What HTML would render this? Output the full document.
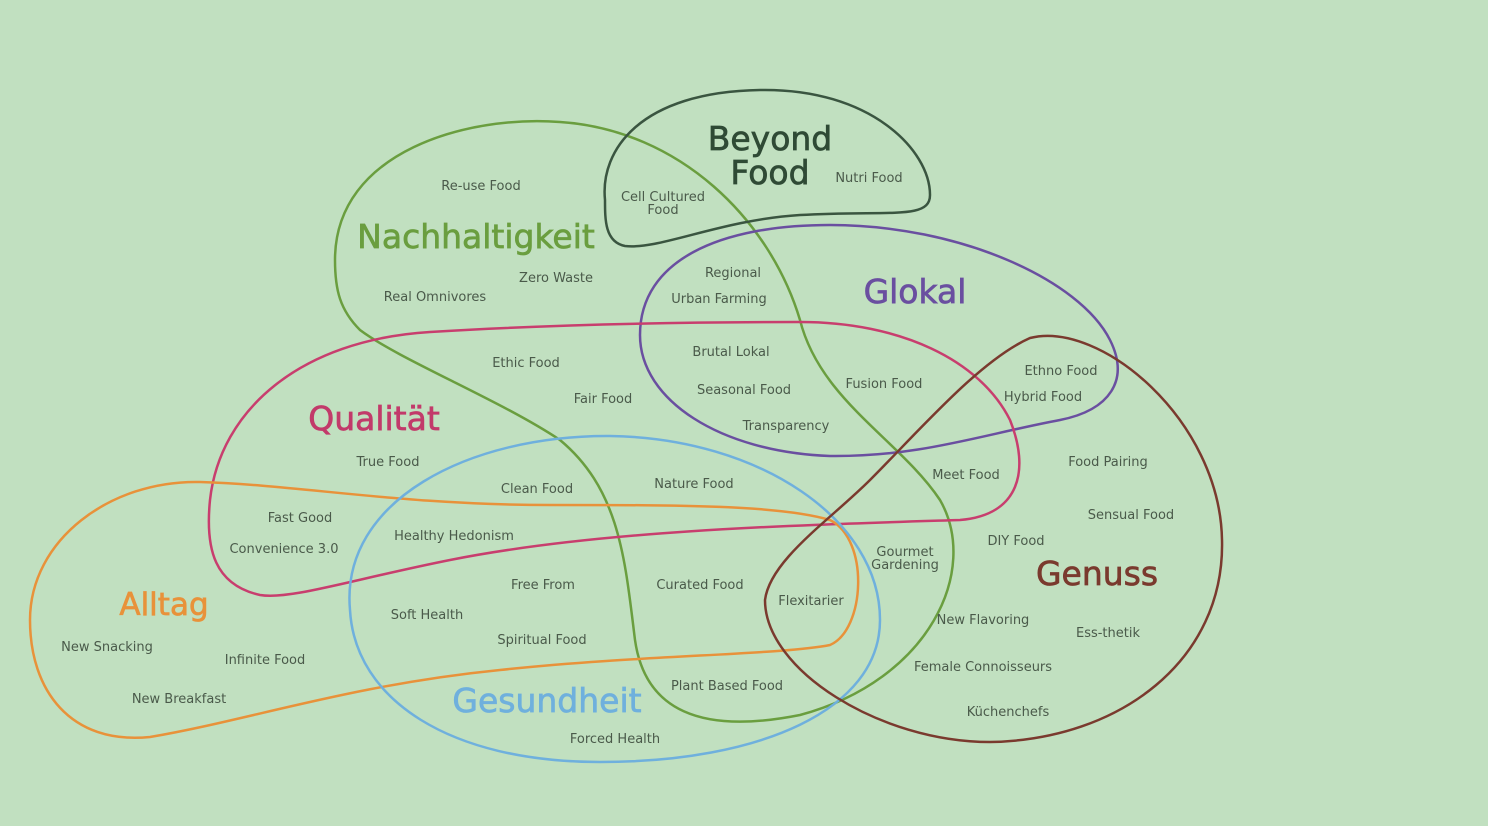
<!DOCTYPE html>
<html><head><meta charset="utf-8"><style>
html,body{margin:0;padding:0;background:#c1e0c0;}
svg{display:block}
text{font-family:"DejaVu Sans","Liberation Sans",sans-serif;}
.l{font-size:13px;fill:#4a5a4a;text-anchor:middle}
.h{text-anchor:middle;font-size:33px;stroke-width:0.7px}
path{fill:none;stroke-width:2.5}
</style></head><body>
<svg width="1488" height="826" viewBox="0 0 1488 826">
<rect width="1488" height="826" fill="#c1e0c0"/>
<path stroke="#6a9e3f" d="M 335 260 C 335 150, 470 115, 560 122 C 680 130, 770 220, 800 320 C 820 400, 900 440, 940 500 C 980 570, 930 680, 800 715 C 700 735, 645 710, 635 640 C 625 560, 620 490, 560 440 C 500 400, 400 360, 360 330 C 340 310, 335 290, 335 260 Z"/>
<path stroke="#3a5540" d="M 605 200 C 600 150, 640 92, 760 90 C 870 88, 930 150, 930 195 C 930 220, 890 210, 800 215 C 720 220, 660 250, 625 246 C 605 242, 605 220, 605 200 Z"/>
<path stroke="#6a4fa0" d="M 640 335 C 640 260, 720 225, 830 225 C 960 225, 1080 280, 1110 340 C 1130 380, 1110 410, 1060 420 C 980 435, 920 457, 830 456 C 720 452, 640 400, 640 335 Z"/>
<path stroke="#c83e6e" d="M 210 500 C 220 410, 300 340, 430 332 C 560 324, 700 322, 800 322 C 900 322, 980 360, 1010 420 C 1030 470, 1020 515, 960 520 C 800 525, 600 530, 450 560 C 350 580, 290 600, 260 595 C 215 585, 205 550, 210 500 Z"/>
<path stroke="#e8923a" d="M 30 620 C 30 540, 110 480, 200 482 C 300 485, 400 505, 550 505 C 680 505, 780 505, 830 520 C 870 540, 865 630, 830 645 C 780 655, 640 655, 500 670 C 350 685, 250 720, 150 737 C 70 745, 30 690, 30 620 Z"/>
<path stroke="#6fb0dd" d="M 350 610 C 340 500, 470 435, 610 436 C 760 438, 880 520, 880 620 C 880 710, 760 762, 600 762 C 450 762, 355 700, 350 610 Z"/>
<path stroke="#7a3a2e" d="M 765 600 C 770 560, 830 520, 870 480 C 920 430, 980 360, 1030 338 C 1100 320, 1220 420, 1222 540 C 1225 660, 1120 740, 990 742 C 880 742, 765 670, 765 600 Z"/>
<text class="h" x="770" y="150" fill="#2f4a35" stroke="#2f4a35">Beyond</text>
<text class="h" x="770" y="184" fill="#2f4a35" stroke="#2f4a35">Food</text>
<text class="h" x="476" y="248" fill="#6a9e3f" stroke="#6a9e3f">Nachhaltigkeit</text>
<text class="h" x="915" y="303" fill="#6a4fa0" stroke="#6a4fa0">Glokal</text>
<text class="h" x="374" y="430" fill="#c23a6a" stroke="#c23a6a">Qualität</text>
<text class="h" x="164" y="615" fill="#e8923a" stroke="#e8923a" style="font-size:31px">Alltag</text>
<text class="h" x="547" y="712" fill="#6fb0dd" stroke="#6fb0dd">Gesundheit</text>
<text class="h" x="1097" y="585" fill="#7a3a2e" stroke="#7a3a2e">Genuss</text>
<text class="l" x="481" y="190">Re-use Food</text>
<text class="l" x="663" y="201">Cell Cultured</text>
<text class="l" x="663" y="214">Food</text>
<text class="l" x="869" y="182">Nutri Food</text>
<text class="l" x="556" y="282">Zero Waste</text>
<text class="l" x="435" y="301">Real Omnivores</text>
<text class="l" x="733" y="277">Regional</text>
<text class="l" x="719" y="303">Urban Farming</text>
<text class="l" x="731" y="356">Brutal Lokal</text>
<text class="l" x="744" y="394">Seasonal Food</text>
<text class="l" x="786" y="430">Transparency</text>
<text class="l" x="884" y="388">Fusion Food</text>
<text class="l" x="1061" y="375">Ethno Food</text>
<text class="l" x="1043" y="401">Hybrid Food</text>
<text class="l" x="526" y="367">Ethic Food</text>
<text class="l" x="603" y="403">Fair Food</text>
<text class="l" x="388" y="466">True Food</text>
<text class="l" x="537" y="493">Clean Food</text>
<text class="l" x="694" y="488">Nature Food</text>
<text class="l" x="966" y="479">Meet Food</text>
<text class="l" x="1108" y="466">Food Pairing</text>
<text class="l" x="1131" y="519">Sensual Food</text>
<text class="l" x="1016" y="545">DIY Food</text>
<text class="l" x="905" y="556">Gourmet</text>
<text class="l" x="905" y="569">Gardening</text>
<text class="l" x="300" y="522">Fast Good</text>
<text class="l" x="284" y="553">Convenience 3.0</text>
<text class="l" x="454" y="540">Healthy Hedonism</text>
<text class="l" x="543" y="589">Free From</text>
<text class="l" x="700" y="589">Curated Food</text>
<text class="l" x="811" y="605">Flexitarier</text>
<text class="l" x="427" y="619">Soft Health</text>
<text class="l" x="542" y="644">Spiritual Food</text>
<text class="l" x="107" y="651">New Snacking</text>
<text class="l" x="265" y="664">Infinite Food</text>
<text class="l" x="179" y="703">New Breakfast</text>
<text class="l" x="727" y="690">Plant Based Food</text>
<text class="l" x="615" y="743">Forced Health</text>
<text class="l" x="983" y="624">New Flavoring</text>
<text class="l" x="1108" y="637">Ess-thetik</text>
<text class="l" x="983" y="671">Female Connoisseurs</text>
<text class="l" x="1008" y="716">Küchenchefs</text>
</svg>
</body></html>
